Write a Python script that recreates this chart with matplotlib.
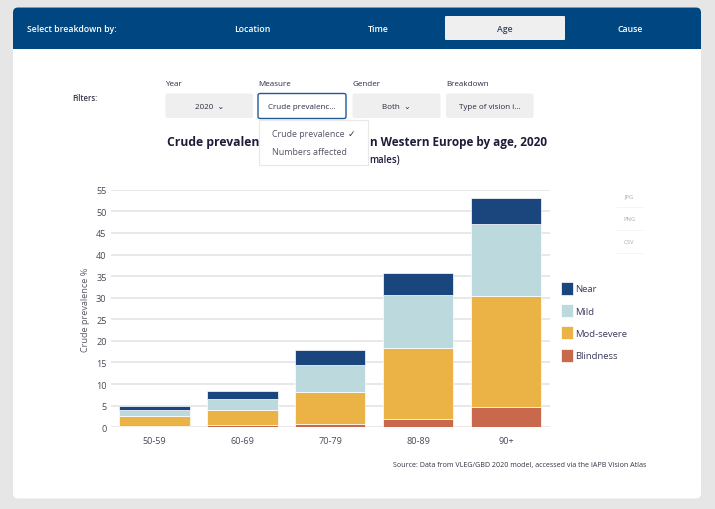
"""
Stacked bars of crude prevalence by age, with the dashboard controls around it.
"""
import matplotlib
matplotlib.use("Agg")
import matplotlib.pyplot as plt
from matplotlib.patches import FancyBboxPatch, Rectangle

plt.rcParams['font.family'] = ['Open Sans', 'DejaVu Sans']

W = 715
H = 510

ages = ["50-59", "60-69", "70-79", "80-89", "90+"]
blindness = [0.2, 0.55, 0.8, 2.0, 4.6]
mod_severe = [2.4, 3.4, 7.4, 16.4, 25.9]
mild = [1.3, 2.6, 6.3, 12.3, 16.6]
near = [0.95, 1.85, 3.3, 5.0, 6.0]
y_ticks = list(range(0, 60, 5))

series_names = ["Blindness", "Mod-severe", "Mild", "Near"]
series_colors = ["#c8694d", "#ebb345", "#bcd9dd", "#1b457d"]

tabs = ["Location", "Time", "Age", "Cause"]
filter_names = ["Year", "Measure", "Gender", "Breakdown"]
filter_values = ["2020  ⌄", "Crude prevalenc...", "Both  ⌄", "Type of vision i..."]
menu_items = ["Crude prevalence", "Numbers affected"]
export_items = ["JPG", "PNG", "CSV"]

fig = plt.figure(figsize=(W / 100, H / 100), dpi=100, facecolor="#e6e6e6")

# page layer, in pixels from the top left
ui = fig.add_axes([0, 0, 1, 1], zorder=1)
ui.set_xlim(0, W)
ui.set_ylim(H, 0)
ui.axis("off")

ui.add_patch(FancyBboxPatch((13, 8.5), 688, 491, boxstyle="round,pad=0,rounding_size=5", fc="white", ec="none"))
ui.add_patch(FancyBboxPatch((13, 8.5), 688, 30, boxstyle="round,pad=0,rounding_size=5", fc="#004680", ec="none"))
ui.add_patch(Rectangle((13, 20), 688, 30, fc="#004680", ec="none"))
ui.add_patch(FancyBboxPatch((445, 17), 120, 24, boxstyle="round,pad=0,rounding_size=1", fc="#efefef", ec="none"))

ui.text(27, 29.5, "Select breakdown by:", color="white", fontsize=6.3, fontweight="semibold", va="center")
tab_x = [252, 378, 505, 630]
for name, x in zip(tabs, tab_x):
    col = "#33465f" if name == "Age" else "white"
    ui.text(x, 29.5, name, color=col, fontsize=6.3, fontweight="semibold", ha="center", va="center")

ui.text(72, 98.5, "Filters:", color="#333344", fontsize=5.6, fontweight="semibold", va="center")
box_x = [165.5, 258, 352.5, 446]
box_w = [87.5, 88, 88, 87.5]
for i in range(4):
    ui.text(box_x[i], 85, filter_names[i], color="#2a2a45", fontsize=5.8, va="center")
    if i == 1:
        ui.add_patch(FancyBboxPatch((box_x[i], 94.5), box_w[i], 25, boxstyle="round,pad=0,rounding_size=2", fc="white", ec="#1f5a94", lw=1))
    else:
        ui.add_patch(FancyBboxPatch((box_x[i], 94.5), box_w[i], 24.5, boxstyle="round,pad=0,rounding_size=2", fc="#efefef", ec="none"))
    ui.text(box_x[i] + box_w[i] / 2, 107.5, filter_values[i], color="#2a2a45", fontsize=5.8, ha="center", va="center")

# the dropdown hides the middle of both titles, only the visible parts are written
ui.text(259, 143, "Crude prevalen", color="#1d1d3a", fontsize=8.7, fontweight="bold", ha="right", va="center")
ui.text(369.5, 143, "n Western Europe by age, 2020", color="#1d1d3a", fontsize=8.5, fontweight="bold", ha="left", va="center")
ui.text(369.5, 160.5, "males)", color="#1d1d3a", fontsize=6.9, fontweight="semibold", ha="left", va="center")

ui.add_patch(Rectangle((259, 120.5), 109, 45, fc="white", ec="#e8e8e8", lw=0.8, zorder=5))
ui.text(272, 134.5, menu_items[0], color="#555566", fontsize=6.4, va="center", zorder=6)
ui.text(272, 152.5, menu_items[1], color="#555566", fontsize=6.4, va="center", zorder=6)
ui.text(351.5, 134.5, "✓", color="#333344", fontsize=6.5, ha="center", va="center", zorder=6)

export_y = [196.5, 219.5, 242.5]
for name, y in zip(export_items, export_y):
    ui.text(629, y, name, color="#aaaaaa", fontsize=4.2, ha="center", va="center")
    ui.plot([617, 642], [y + 11.5, y + 11.5], color="#f4f4f4", lw=0.7)

ui.text(646, 466, "Source: Data from VLEG/GBD 2020 model, accessed via the IAPB Vision Atlas", color="#333344",
        fontsize=5.15, ha="right", va="center")

# chart
ax_left = 110.7
ax_right = 550
ax_top = 190.8
ax_bottom = 428.2
ax = fig.add_axes([ax_left / W, 1 - ax_bottom / H, (ax_right - ax_left) / W, (ax_bottom - ax_top) / H], zorder=2)
ax.patch.set_alpha(0)
ax.set_xlim(-0.5, 4.5)
ax.set_ylim(0, 55)

bottom = [0] * len(ages)
handles = []
for name, vals, col in zip(series_names, [blindness, mod_severe, mild, near], series_colors):
    bars = ax.bar(ages, vals, width=0.8, bottom=bottom, color=col, edgecolor="white", linewidth=0.5, label=name, zorder=3)
    handles.append(bars)
    bottom = [b + v for b, v in zip(bottom, vals)]

ax.set_yticks(y_ticks)
ax.grid(axis="y", color="#e6e6e6", lw=1.3, zorder=0)
ax.set_axisbelow(True)
for s in ax.spines.values():
    s.set_visible(False)
ax.tick_params(axis="both", length=0, labelsize=6.6, labelcolor="#4a4a5a")
ax.tick_params(axis="y", pad=3)
ax.tick_params(axis="x", pad=6)
ax.set_ylabel("Crude prevalence %", fontsize=6.6, color="#5a5a6a")
ax.yaxis.set_label_coords((90 - ax_left) / (ax_right - ax_left), 0.5)

leg = ax.legend(handles[::-1], series_names[::-1], loc="upper left", frameon=False, fontsize=6.8,
                bbox_to_anchor=((559.5 - ax_left) / (ax_right - ax_left), 1 - (281 - ax_top) / (ax_bottom - ax_top)),
                borderaxespad=0, borderpad=0.2, handlelength=1.22, handleheight=1.75, handletextpad=0.25,
                labelspacing=0.97, labelcolor="#3a3a5a")

fig.savefig("out.png", dpi=100, facecolor=fig.get_facecolor())
